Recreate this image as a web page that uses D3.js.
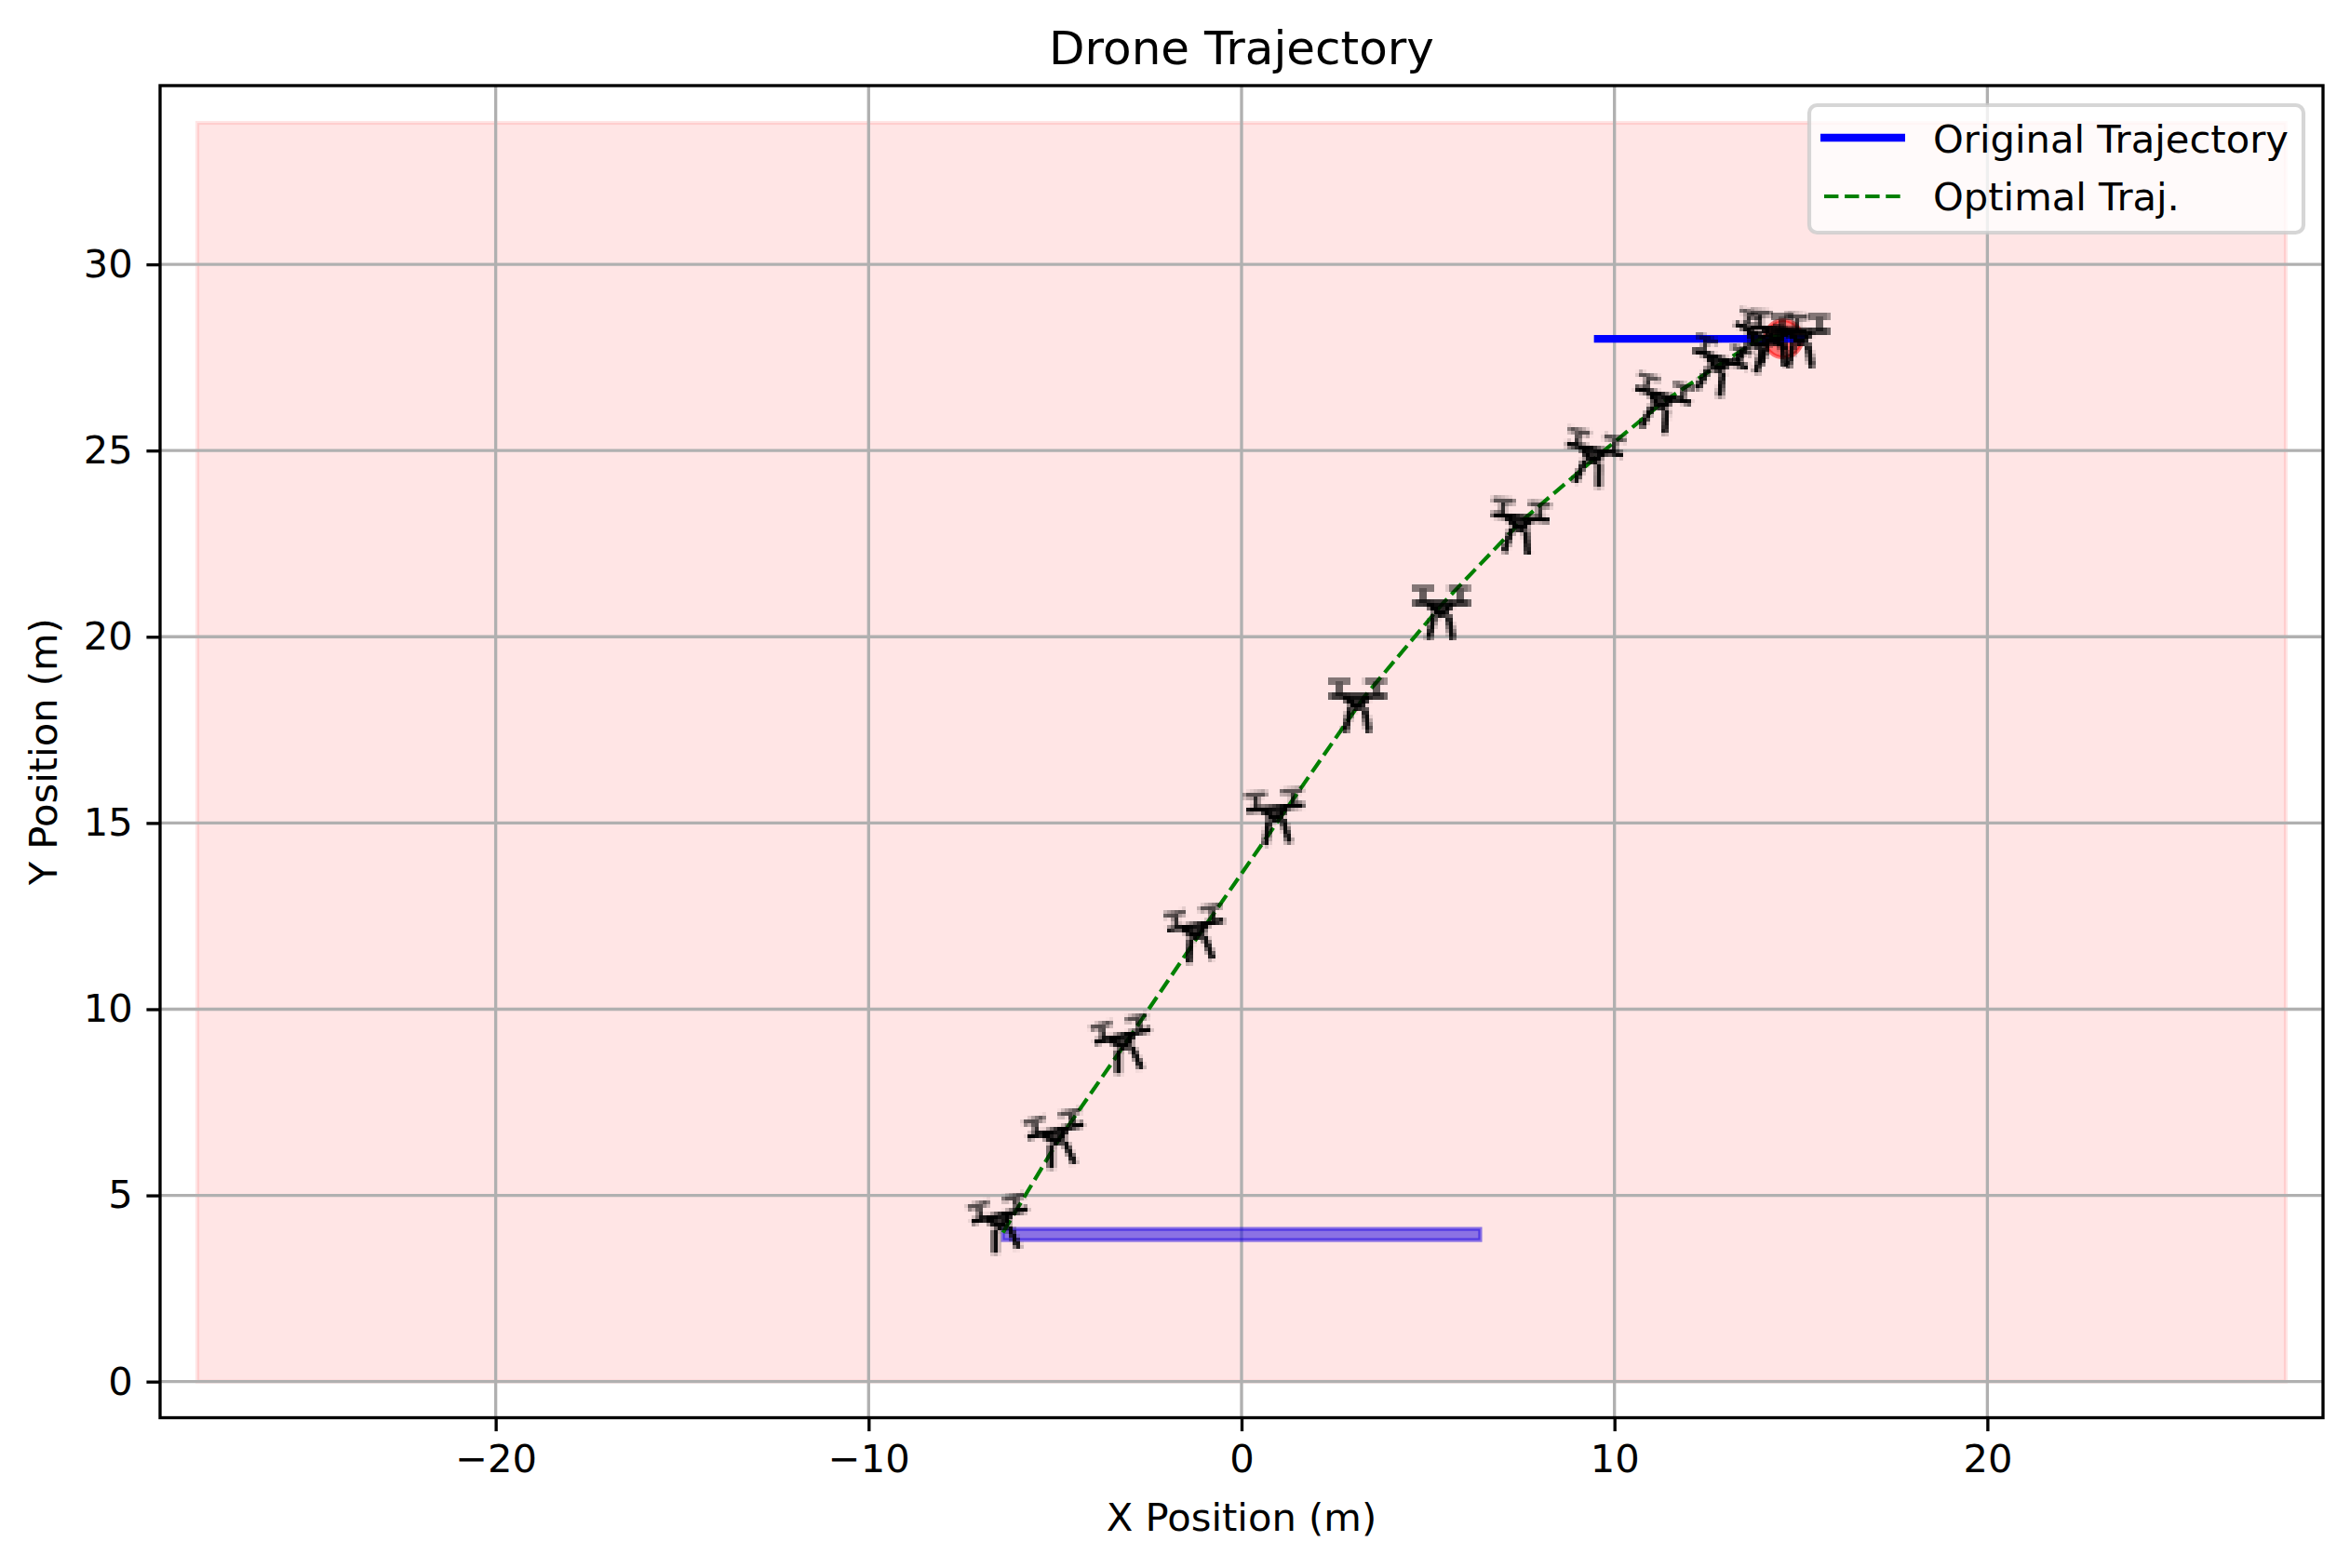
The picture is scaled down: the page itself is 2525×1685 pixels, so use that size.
<!DOCTYPE html>
<html>
<head>
<meta charset="utf-8">
<script src="https://cdn.jsdelivr.net/npm/d3@7"></script>
<style>
  html, body { margin: 0; padding: 0; background: #fff; overflow: hidden; }
  text { font-family: "DejaVu Sans", sans-serif; fill: #000; }
</style>
</head>
<body>
<div id="chart"></div>
<script>
const xTicks = [-20, -10, 0, 10, 20]
const yTicks = [0, 5, 10, 15, 20, 25, 30]

// optimal trajectory
const optimalX = [-6.4, -4.9, -3.1, -1.0, 1.15, 3.3, 5.4, 7.5, 9.6, 11.3, 12.8, 13.9, 14.5]
const optimalY = [4.0, 6.5, 9.1, 12.2, 15.3, 18.4, 20.9, 23.1, 24.9, 26.3, 27.3, 28.0, 28.1]

// drone icons along it
const droneX = [-6.43, -4.94, -3.15, -1.2, 0.92, 3.13, 5.37, 7.45, 9.44, 11.25, 12.77, 13.84, 14.34, 14.99]
const droneY = [4.27, 6.53, 9.1, 12.05, 15.2, 18.2, 20.71, 23.0, 24.83, 26.28, 27.28, 27.9, 28.05, 28.0]
const droneTilt = [-13, -13, -13, -10, -5, 0, 0, 6, 11, 15, 18, 25, 6, 0]

const originalX = [9.45, 15.1]
const originalY = [28, 28]

const zoneX = [-28, 28]
const zoneY = [0, 33.8]
const startX = [-6.4, 6.4]
const startY = [3.8, 4.1]
const goalX = [14.53]
const goalY = [28]
const goalR = [0.5]

const legendLabels = ['Original Trajectory', 'Optimal Traj.']

const width = 2525
const height = 1685
const margin = { left: 172, right: 2496, top: 92, bottom: 1523.5 }
const pt = 300 / 72

const x = d3.scaleLinear().domain([-29, 29]).range([margin.left, margin.right])
const y = d3.scaleLinear().domain([-0.97, 34.8]).range([margin.bottom, margin.top])

const svg = d3
  .select('#chart')
  .append('svg')
  .attr('width', width)
  .attr('height', height)
  .style('display', 'block')

svg
  .append('defs')
  .append('clipPath')
  .attr('id', 'plot-clip')
  .append('rect')
  .attr('x', margin.left)
  .attr('y', margin.top)
  .attr('width', margin.right - margin.left)
  .attr('height', margin.bottom - margin.top)

const plot = svg.append('g').attr('clip-path', 'url(#plot-clip)')

// allowed zone
plot
  .append('rect')
  .attr('x', x(zoneX[0]))
  .attr('y', y(zoneY[1]))
  .attr('width', x(zoneX[1]) - x(zoneX[0]))
  .attr('height', y(zoneY[0]) - y(zoneY[1]))
  .attr('fill', 'red')
  .attr('fill-opacity', 0.1)
  .attr('stroke', 'red')
  .attr('stroke-opacity', 0.1)
  .attr('stroke-width', pt)

// grid
plot
  .selectAll('.vgrid')
  .data(xTicks)
  .enter()
  .append('line')
  .attr('class', 'vgrid')
  .attr('x1', d => x(d))
  .attr('x2', d => x(d))
  .attr('y1', margin.top)
  .attr('y2', margin.bottom)
  .attr('stroke', '#b0b0b0')
  .attr('stroke-width', 0.8 * pt)

plot
  .selectAll('.hgrid')
  .data(yTicks)
  .enter()
  .append('line')
  .attr('class', 'hgrid')
  .attr('x1', margin.left)
  .attr('x2', margin.right)
  .attr('y1', d => y(d))
  .attr('y2', d => y(d))
  .attr('stroke', '#b0b0b0')
  .attr('stroke-width', 0.8 * pt)

// start area
plot
  .append('rect')
  .attr('x', x(startX[0]))
  .attr('y', y(startY[1]))
  .attr('width', x(startX[1]) - x(startX[0]))
  .attr('height', y(startY[0]) - y(startY[1]))
  .attr('fill', '#1800e4')
  .attr('fill-opacity', 0.5)
  .attr('stroke', '#1800e4')
  .attr('stroke-opacity', 0.5)
  .attr('stroke-width', pt)

// goal
plot
  .selectAll('.goal')
  .data(goalX)
  .enter()
  .append('ellipse')
  .attr('class', 'goal')
  .attr('cx', d => x(d))
  .attr('cy', (d, i) => y(goalY[i]))
  .attr('rx', (d, i) => x(goalR[i]) - x(0))
  .attr('ry', (d, i) => y(0) - y(goalR[i]))
  .attr('fill', 'red')
  .attr('fill-opacity', 0.5)
  .attr('stroke', 'red')
  .attr('stroke-opacity', 0.5)
  .attr('stroke-width', pt)

const line = d3
  .line()
  .x(d => x(d[0]))
  .y(d => y(d[1]))

plot
  .append('path')
  .attr('d', line(d3.zip(originalX, originalY)))
  .attr('fill', 'none')
  .attr('stroke', 'blue')
  .attr('stroke-width', 2 * pt)

plot
  .append('path')
  .attr('d', line(d3.zip(optimalX, optimalY)))
  .attr('fill', 'none')
  .attr('stroke', 'green')
  .attr('stroke-width', pt)
  .attr('stroke-dasharray', `${3.7 * pt} ${1.6 * pt}`)

// drone icon, drawn small then blown up so it looks like the low-res png
const cell = 4
const iconSize = 112

function droneIcon(tilt) {
  const canvas = document.createElement('canvas')
  canvas.width = iconSize / cell
  canvas.height = iconSize / cell
  const ctx = canvas.getContext('2d')
  ctx.translate(canvas.width / 2, canvas.height / 2)
  ctx.scale(1 / cell, 1 / cell)
  ctx.rotate((tilt * Math.PI) / 180)
  ctx.lineCap = 'butt'
  const seg = (x1, y1, x2, y2, w, a) => {
    ctx.strokeStyle = `rgba(0,0,0,${a})`
    ctx.lineWidth = w
    ctx.beginPath()
    ctx.moveTo(x1, y1)
    ctx.lineTo(x2, y2)
    ctx.stroke()
  }
  seg(-31, -8, 31, -8, 6, 1)
  seg(-20, -8, -20, -22, 6, 0.8)
  seg(20, -8, 20, -22, 6, 0.8)
  seg(-32, -24, -8, -24, 6, 0.65)
  seg(7, -24, 31, -24, 6, 0.65)
  ctx.fillStyle = 'rgba(0,0,0,0.75)'
  ctx.beginPath()
  ctx.moveTo(-15, -8)
  ctx.lineTo(0, 6)
  ctx.lineTo(12, -8)
  ctx.fill()
  seg(-15, -8, 0, 6, 7, 1)
  seg(12, -8, 0, 6, 7, 1)
  seg(-8, 5, -14, 31, 7, 0.95)
  seg(7, 5, 12, 31, 7, 0.95)
  return canvas.toDataURL()
}

plot
  .selectAll('.drone')
  .data(droneX)
  .enter()
  .append('image')
  .attr('class', 'drone')
  .attr('href', (d, i) => droneIcon(droneTilt[i]))
  .attr('x', d => x(d) - iconSize / 2)
  .attr('y', (d, i) => y(droneY[i]) - iconSize / 2)
  .attr('width', iconSize)
  .attr('height', iconSize)
  .style('image-rendering', 'pixelated')

// axes
const xAxis = svg
  .append('g')
  .attr('transform', `translate(0, ${margin.bottom})`)
  .call(d3.axisBottom(x).tickValues(xTicks).tickSize(3.5 * pt).tickPadding(3.5 * pt))

const yAxis = svg
  .append('g')
  .attr('transform', `translate(${margin.left}, 0)`)
  .call(d3.axisLeft(y).tickValues(yTicks).tickSize(3.5 * pt).tickPadding(3.5 * pt))

for (const axis of [xAxis, yAxis]) {
  axis.select('.domain').remove()
  axis.selectAll('.tick line').attr('stroke', '#000').attr('stroke-width', 0.8 * pt)
  axis.selectAll('.tick text').attr('font-size', 10 * pt).attr('font-family', '"DejaVu Sans"')
}

svg
  .append('rect')
  .attr('x', margin.left)
  .attr('y', margin.top)
  .attr('width', margin.right - margin.left)
  .attr('height', margin.bottom - margin.top)
  .attr('fill', 'none')
  .attr('stroke', '#000')
  .attr('stroke-width', 0.8 * pt)

svg
  .append('text')
  .attr('x', (margin.left + margin.right) / 2)
  .attr('y', 69)
  .attr('text-anchor', 'middle')
  .attr('font-size', 12 * pt)
  .text('Drone Trajectory')

svg
  .append('text')
  .attr('x', (margin.left + margin.right) / 2)
  .attr('y', 1645)
  .attr('text-anchor', 'middle')
  .attr('font-size', 10 * pt)
  .text('X Position (m)')

svg
  .append('text')
  .attr('transform', `translate(61, ${(margin.top + margin.bottom) / 2}) rotate(-90)`)
  .attr('text-anchor', 'middle')
  .attr('font-size', 10 * pt)
  .text('Y Position (m)')

// legend
const legend = svg.append('g')

legend
  .append('rect')
  .attr('x', 1944)
  .attr('y', 113)
  .attr('width', 531)
  .attr('height', 137)
  .attr('rx', 8.3)
  .attr('fill', '#fff')
  .attr('fill-opacity', 0.8)
  .attr('stroke', '#ccc')
  .attr('stroke-opacity', 0.8)
  .attr('stroke-width', pt)

legend
  .append('line')
  .attr('x1', 1956)
  .attr('x2', 2047)
  .attr('y1', 148)
  .attr('y2', 148)
  .attr('stroke', 'blue')
  .attr('stroke-width', 2 * pt)

legend
  .append('line')
  .attr('x1', 1960)
  .attr('x2', 2043)
  .attr('y1', 211)
  .attr('y2', 211)
  .attr('stroke', 'green')
  .attr('stroke-width', pt)
  .attr('stroke-dasharray', `${3.7 * pt} ${1.6 * pt}`)

legend
  .selectAll('.legend-label')
  .data(legendLabels)
  .enter()
  .append('text')
  .attr('class', 'legend-label')
  .attr('x', 2077)
  .attr('y', (d, i) => 163.5 + i * 62.5)
  .attr('font-size', 10 * pt)
  .text(d => d)
</script>
</body>
</html>
